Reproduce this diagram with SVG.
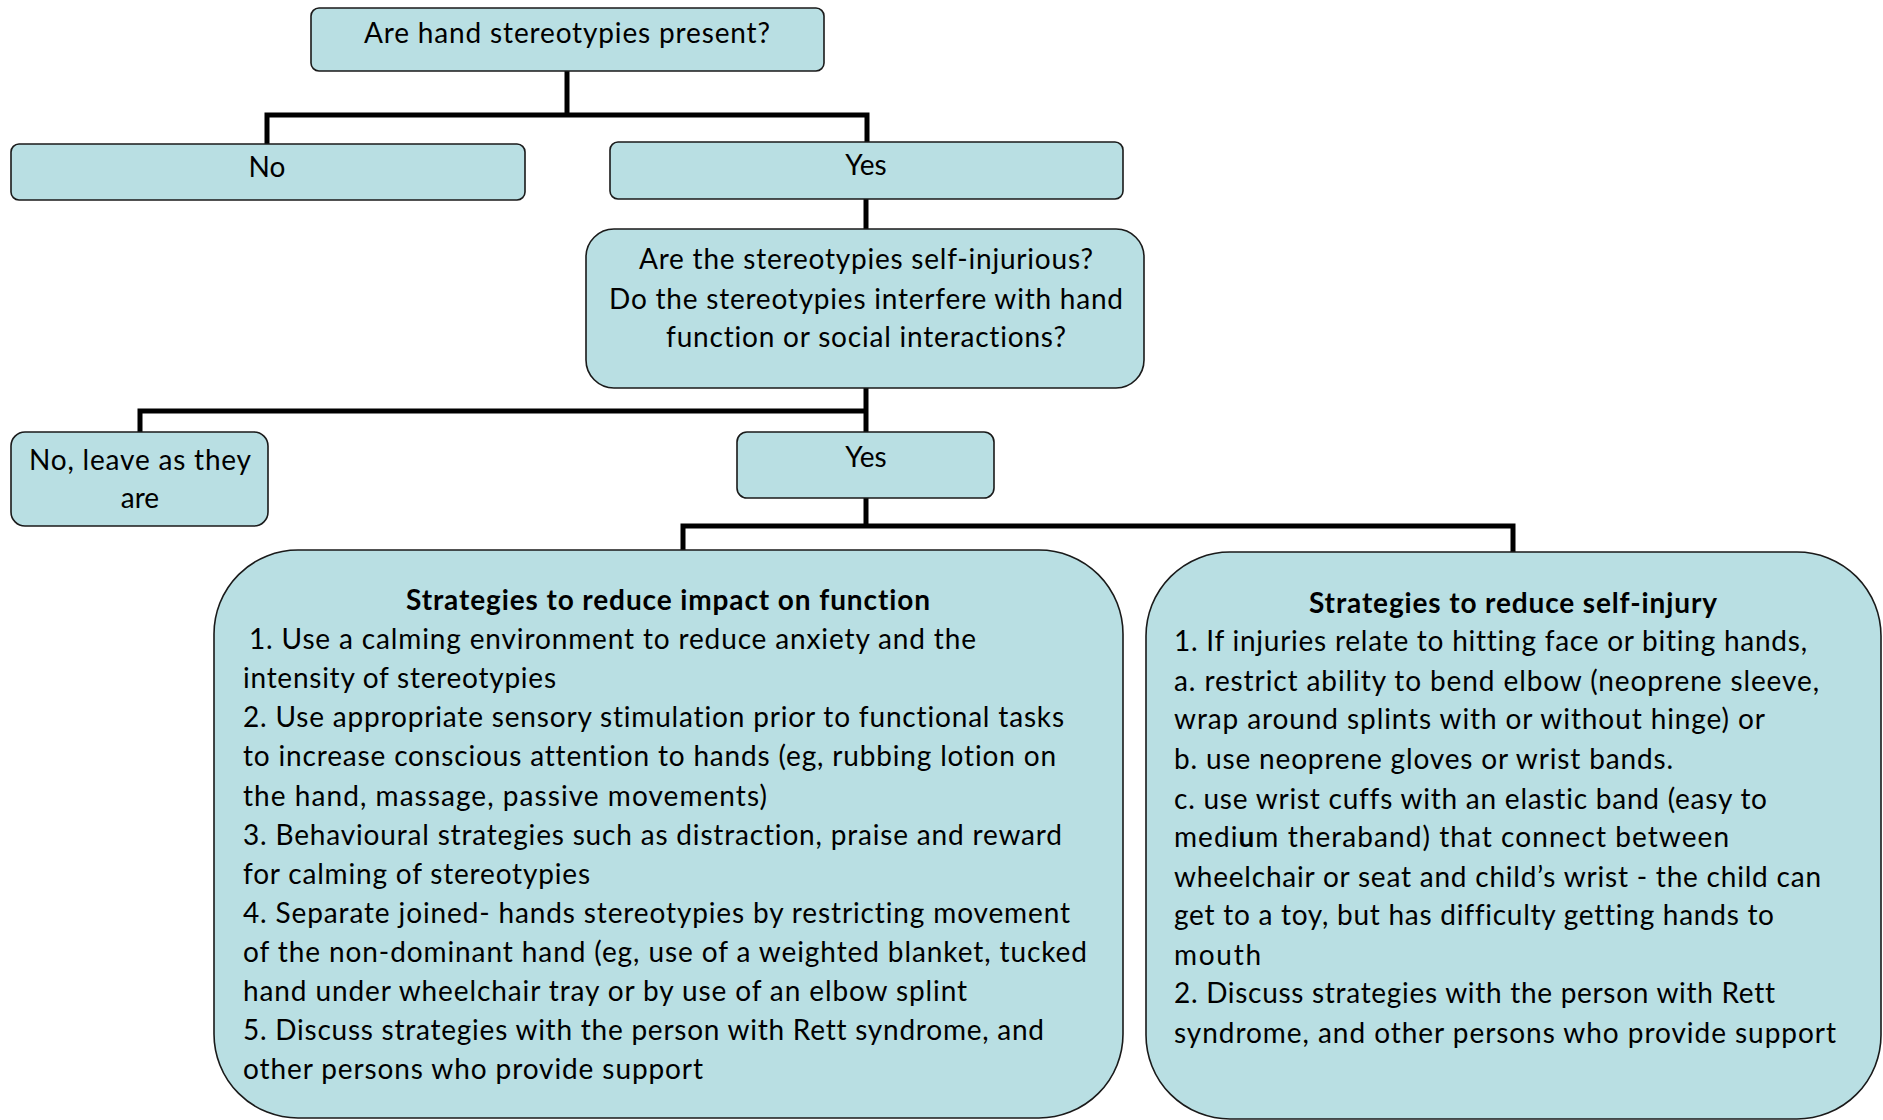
<svg xmlns="http://www.w3.org/2000/svg" width="1883" height="1120" viewBox="0 0 1883 1120">
<style>
.box{fill:#b9dfe3;stroke:#1a1a1a;stroke-width:1.6}
.con{fill:none;stroke:#000;stroke-width:5;stroke-linejoin:miter;stroke-linecap:butt}
text{font-family:Lato,"Open Sans","Liberation Sans",sans-serif;font-size:28px;fill:#000;font-variant-ligatures:none;font-feature-settings:"liga" 0,"clig" 0}
.c{text-anchor:middle}
.b{font-weight:bold}
</style>
<rect width="1883" height="1120" fill="#fff"/>
<g id="connectors">
<path class="con" d="M567,71 V115"/>
<path class="con" d="M267,144 V115 H867 V142"/>
<path class="con" d="M866,199 V229"/>
<path class="con" d="M866,388 V432"/>
<path class="con" d="M140,432 V411 H866"/>
<path class="con" d="M866,498 V526"/>
<path class="con" d="M683,550 V526 H1513 V552"/>
</g>
<g id="q1">
<rect class="box" x="311" y="8" width="513" height="63" rx="8"/>
<text class="c" x="567" y="43" textLength="406">Are hand stereotypies present?</text>
</g>
<g id="no1">
<rect class="box" x="11" y="144" width="514" height="56" rx="8"/>
<text class="c" x="267" y="177">No</text>
</g>
<g id="yes1">
<rect class="box" x="610" y="142" width="513" height="57" rx="8"/>
<text class="c" x="866" y="175">Yes</text>
</g>
<g id="q2">
<rect class="box" x="586" y="229" width="558" height="159" rx="28"/>
<text class="c" x="866" y="269" textLength="454">Are the stereotypies self-injurious?</text>
<text class="c" x="866" y="309" textLength="514">Do the stereotypies interfere with hand</text>
<text class="c" x="866" y="347" textLength="400">function or social interactions?</text>
</g>
<g id="no2">
<rect class="box" x="11" y="432" width="257" height="94" rx="14"/>
<text class="c" x="140" y="470" textLength="222">No, leave as they</text>
<text class="c" x="140" y="508">are</text>
</g>
<g id="yes2">
<rect class="box" x="737" y="432" width="257" height="66" rx="10"/>
<text class="c" x="866" y="467">Yes</text>
</g>
<g id="function">
<rect class="box" x="214" y="550" width="909" height="568" rx="84"/>
<text class="c b" x="668" y="610" textLength="524">Strategies to reduce impact on function</text>
<text x="249" y="649" textLength="727">1. Use a calming environment to reduce anxiety and the</text>
<text x="243" y="688" textLength="313">intensity of stereotypies</text>
<text x="243" y="727" textLength="821">2. Use appropriate sensory stimulation prior to functional tasks</text>
<text x="243" y="766" textLength="813">to increase conscious attention to hands (eg, rubbing lotion on</text>
<text x="243" y="806" textLength="524">the hand, massage, passive movements)</text>
<text x="243" y="845" textLength="819">3. Behavioural strategies such as distraction, praise and reward</text>
<text x="243" y="884" textLength="347">for calming of stereotypies</text>
<text x="243" y="923" textLength="827">4. Separate joined- hands stereotypies by restricting movement</text>
<text x="243" y="962" textLength="844">of the non-dominant hand (eg, use of a weighted blanket, tucked</text>
<text x="243" y="1001" textLength="724">hand under wheelchair tray or by use of an elbow splint</text>
<text x="243" y="1040" textLength="801">5. Discuss strategies with the person with Rett syndrome, and</text>
<text x="243" y="1079" textLength="460">other persons who provide support</text>
</g>
<g id="selfinjury">
<rect class="box" x="1146" y="552" width="735" height="567" rx="84"/>
<text class="c b" x="1513" y="613" textLength="408">Strategies to reduce self-injury</text>
<text x="1174" y="651" textLength="633">1. If injuries relate to hitting face or biting hands,</text>
<text x="1174" y="691" textLength="645">a. restrict ability to bend elbow (neoprene sleeve,</text>
<text x="1174" y="729" textLength="591">wrap around splints with or without hinge) or</text>
<text x="1174" y="769" textLength="499">b. use neoprene gloves or wrist bands.</text>
<text x="1174" y="809" textLength="593">c. use wrist cuffs with an elastic band (easy to</text>
<text x="1174" y="847" textLength="555">medi<tspan class="b">u</tspan>m theraband) that connect between</text>
<text x="1174" y="887" textLength="647">wheelchair or seat and child’s wrist - the child can</text>
<text x="1174" y="925" textLength="600">get to a toy, but has difficulty getting hands to</text>
<text x="1174" y="965" textLength="87">mouth</text>
<text x="1174" y="1003" textLength="601">2. Discuss strategies with the person with Rett</text>
<text x="1174" y="1043" textLength="662">syndrome, and other persons who provide support</text>
</g>
</svg>
